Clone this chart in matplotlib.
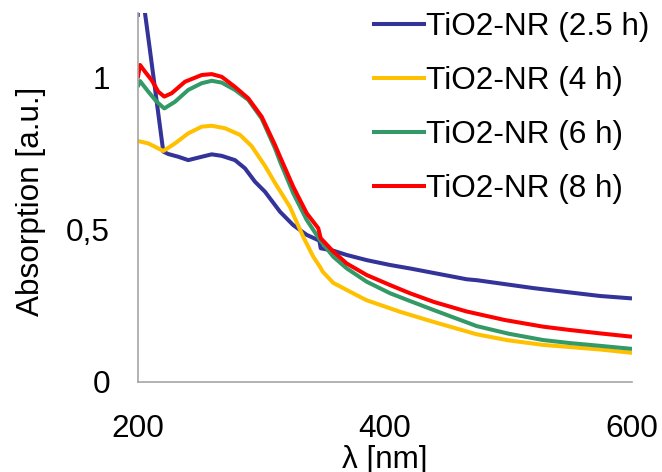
import matplotlib
matplotlib.use("Agg")
import matplotlib.pyplot as plt

plt.rcParams['font.family'] = ['Liberation Sans', 'DejaVu Sans']

labels = ["TiO2-NR (2.5 h)", "TiO2-NR (4 h)", "TiO2-NR (6 h)", "TiO2-NR (8 h)"]
colors = ["#333399", "#FFC000", "#339966", "#FF0000"]

wl_25 = [200, 201.2, 205.9, 210, 220.7, 224.8, 232.9, 240.9, 251.8, 259.9, 268, 278.7, 286.8, 294.9, 303,
         315.2, 325.9, 336.8, 347, 348.1, 358.3, 369.1, 385.3, 404.2, 421.1, 466.2, 474.3, 520.1,
         528.2, 574.1, 600]
ab_25 = [1.20, 1.36, 1.213, 1.088, 0.757, 0.749, 0.740, 0.729, 0.740, 0.748, 0.743, 0.729, 0.702, 0.658, 0.625,
         0.559, 0.515, 0.483, 0.464, 0.439, 0.431, 0.417, 0.400, 0.384, 0.372, 0.337, 0.334, 0.308,
         0.304, 0.282, 0.274]

wl_4 = [200, 208.6, 214, 220.7, 230.2, 240.9, 251.8, 259.9, 270.6, 282.8, 292.2, 303, 311.1, 323.2, 334,
        342.1, 347.5, 349.7, 358.3, 369.1, 379.9, 385.3, 412.3, 440, 474.3, 500, 528.2, 550, 574.1, 600]
ab_4 = [0.792, 0.784, 0.773, 0.759, 0.784, 0.817, 0.839, 0.842, 0.834, 0.812, 0.775, 0.710, 0.654, 0.575, 0.476,
        0.411, 0.378, 0.362, 0.325, 0.302, 0.279, 0.268, 0.230, 0.196, 0.156, 0.136, 0.121, 0.114, 0.106, 0.095]

wl_6 = [200, 201.9, 208.6, 215.4, 221.5, 230.2, 240.9, 251.8, 259.9, 268, 278.7, 289.5, 300.3, 311.1, 315.2,
        325.9, 336.8, 347.5, 358.3, 369.1, 385.3, 404.2, 420, 440, 474.3, 500, 528.2, 550, 574.1, 600]
ab_6 = [0.970, 0.989, 0.954, 0.921, 0.899, 0.921, 0.960, 0.982, 0.990, 0.984, 0.960, 0.927, 0.866, 0.768, 0.724,
        0.620, 0.532, 0.466, 0.411, 0.373, 0.329, 0.291, 0.266, 0.235, 0.183, 0.158, 0.137, 0.127, 0.118, 0.108]

wl_8 = [200, 201.9, 205.9, 211.3, 216.7, 221.5, 227.5, 238.3, 251.8, 259.9, 268, 278.7, 289.5, 300.3, 311.1,
        315.2, 325.9, 336.8, 346.1, 348.1, 358.3, 369.1, 385.3, 404.2, 420.3, 440, 466.2, 497, 528.2, 550,
        574.1, 600]
ab_8 = [0.998, 1.042, 1.020, 0.992, 0.954, 0.938, 0.949, 0.987, 1.009, 1.012, 1.003, 0.970, 0.932, 0.872, 0.779,
        0.740, 0.641, 0.554, 0.505, 0.472, 0.428, 0.389, 0.351, 0.318, 0.291, 0.262, 0.231, 0.203, 0.181, 0.170,
        0.159, 0.148]

series = [(wl_25, ab_25), (wl_4, ab_4), (wl_6, ab_6), (wl_8, ab_8)]

x_ticks = [200, 400, 600]
y_ticks = [0, 0.5, 1]
y_tick_labels = ["0", "0,5", "1"]

fs = 22.7
fig = plt.figure(figsize=(6.62, 4.72), dpi=100)
ax = fig.add_axes([137.7 / 662, 1 - 381.7 / 472, (632 - 137.7) / 662, (381.7 - 13) / 472])

for (x, y), c, lab in zip(series, colors, labels):
    ax.plot(x, y, color=c, lw=2.9, label=lab, solid_capstyle='butt', solid_joinstyle='round')

ax.set_xlim(200, 600)
ax.set_ylim(0, 1.213)
ax.set_xticks(x_ticks)
ax.set_xticklabels([str(t) for t in x_ticks])
ax.set_yticks(y_ticks)
ax.set_yticklabels(y_tick_labels)
ax.tick_params(length=0, labelsize=fs)
ax.tick_params(axis='x', pad=23)
ax.tick_params(axis='y', pad=20)
for s in ['top', 'right']:
    ax.spines[s].set_visible(False)
for s in ['left', 'bottom']:
    ax.spines[s].set_color('#A6A6A6')
    ax.spines[s].set_linewidth(1.2)

ax.set_xlabel("λ [nm]", fontsize=fs)
ax.set_ylabel("Absorption [a.u.]", fontsize=fs)
ax.xaxis.set_label_coords(0.5, -0.171)
ax.yaxis.set_label_coords(-0.1855, 0.49)

leg = ax.legend(loc='upper left', bbox_to_anchor=(371.7 / 662, 1 - 12 / 472),
                bbox_transform=fig.transFigure, frameon=False, fontsize=fs,
                handlelength=1.71, handletextpad=0.0, labelspacing=0.76,
                borderpad=0, borderaxespad=0)
for h in leg.get_lines():
    h.set_linewidth(2.9)

fig.savefig("out.png", dpi=100)
